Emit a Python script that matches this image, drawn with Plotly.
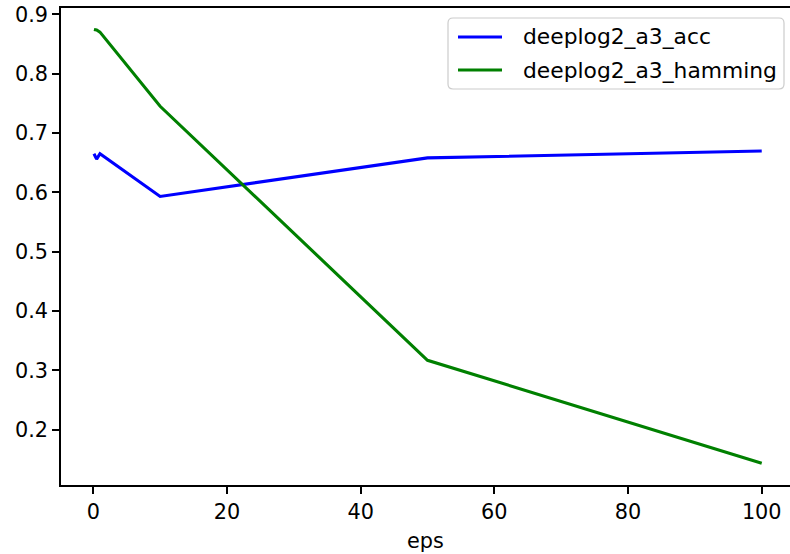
import plotly.graph_objects as go

# privacy budget values on the x axis
eps = [0.1, 0.5, 1, 10, 50, 100]

# metric values per eps
acc = [0.665, 0.656, 0.665, 0.593, 0.658, 0.6696]
hamming = [0.8745, 0.8735, 0.870, 0.745, 0.317, 0.1433]

x_ticks = [0, 20, 40, 60, 80, 100]
y_ticks = [0.2, 0.3, 0.4, 0.5, 0.6, 0.7, 0.8, 0.9]

series = [
    ("deeplog2_a3_acc", acc, "#0000ff"),
    ("deeplog2_a3_hamming", hamming, "#008000"),
]

FONT = "DejaVu Sans"
FS = 20.8
W, H = 790, 554
ML, MR, MT, MB = 61, 0, 8, 69


def px_x(p):
    return (p - ML) / (W - ML - MR)


def px_y(p):
    return 1 - (p - MT) / (H - MT - MB)


fig = go.Figure()
for name, vals, color in series:
    fig.add_trace(go.Scatter(x=eps, y=vals, mode="lines", name=name,
                             line=dict(color=color, width=3.1), showlegend=False))

axis_common = dict(
    showgrid=False, zeroline=False, showline=True, linecolor="black", linewidth=1.6,
    ticks="outside", ticklen=7, tickwidth=1.6, tickcolor="black",
    tickfont=dict(family=FONT, size=FS, color="black"),
)

# legend box with rounded corners, upper right
bx0, bx1, by0, by1, r = 448, 784, 18, 89, 5
path = (f"M {px_x(bx0 + r)},{px_y(by0)} L {px_x(bx1 - r)},{px_y(by0)} "
        f"Q {px_x(bx1)},{px_y(by0)} {px_x(bx1)},{px_y(by0 + r)} "
        f"L {px_x(bx1)},{px_y(by1 - r)} Q {px_x(bx1)},{px_y(by1)} {px_x(bx1 - r)},{px_y(by1)} "
        f"L {px_x(bx0 + r)},{px_y(by1)} Q {px_x(bx0)},{px_y(by1)} {px_x(bx0)},{px_y(by1 - r)} "
        f"L {px_x(bx0)},{px_y(by0 + r)} Q {px_x(bx0)},{px_y(by0)} {px_x(bx0 + r)},{px_y(by0)} Z")
shapes = [dict(type="path", xref="paper", yref="paper", path=path,
               fillcolor="rgba(255,255,255,0.8)", line=dict(color="#cccccc", width=1.2))]
annotations = []
row_y = [37, 70]
for (name, _, color), ry in zip(series, row_y):
    shapes.append(dict(type="line", xref="paper", yref="paper",
                       x0=px_x(458), x1=px_x(502), y0=px_y(ry), y1=px_y(ry),
                       line=dict(color=color, width=3.1)))
    annotations.append(dict(xref="paper", yref="paper", x=px_x(521), y=px_y(ry),
                            xanchor="left", yanchor="middle", showarrow=False,
                            text=name, font=dict(family=FONT, size=21.8, color="black")))

fig.update_layout(
    width=W, height=H,
    margin=dict(l=ML, r=MR, t=MT, b=MB),
    paper_bgcolor="white", plot_bgcolor="white",
    font=dict(family=FONT, size=FS, color="black"),
    xaxis=dict(range=[-4.83, 104.23], tickvals=x_ticks, mirror=True,
               title=dict(text="eps", font=dict(family=FONT, size=FS), standoff=11),
               **axis_common),
    yaxis=dict(range=[0.1068, 0.9106], tickvals=y_ticks,
               tickformat=".1f", **axis_common),
    shapes=shapes,
    annotations=annotations,
    showlegend=False,
)

fig.write_html("out.html")
